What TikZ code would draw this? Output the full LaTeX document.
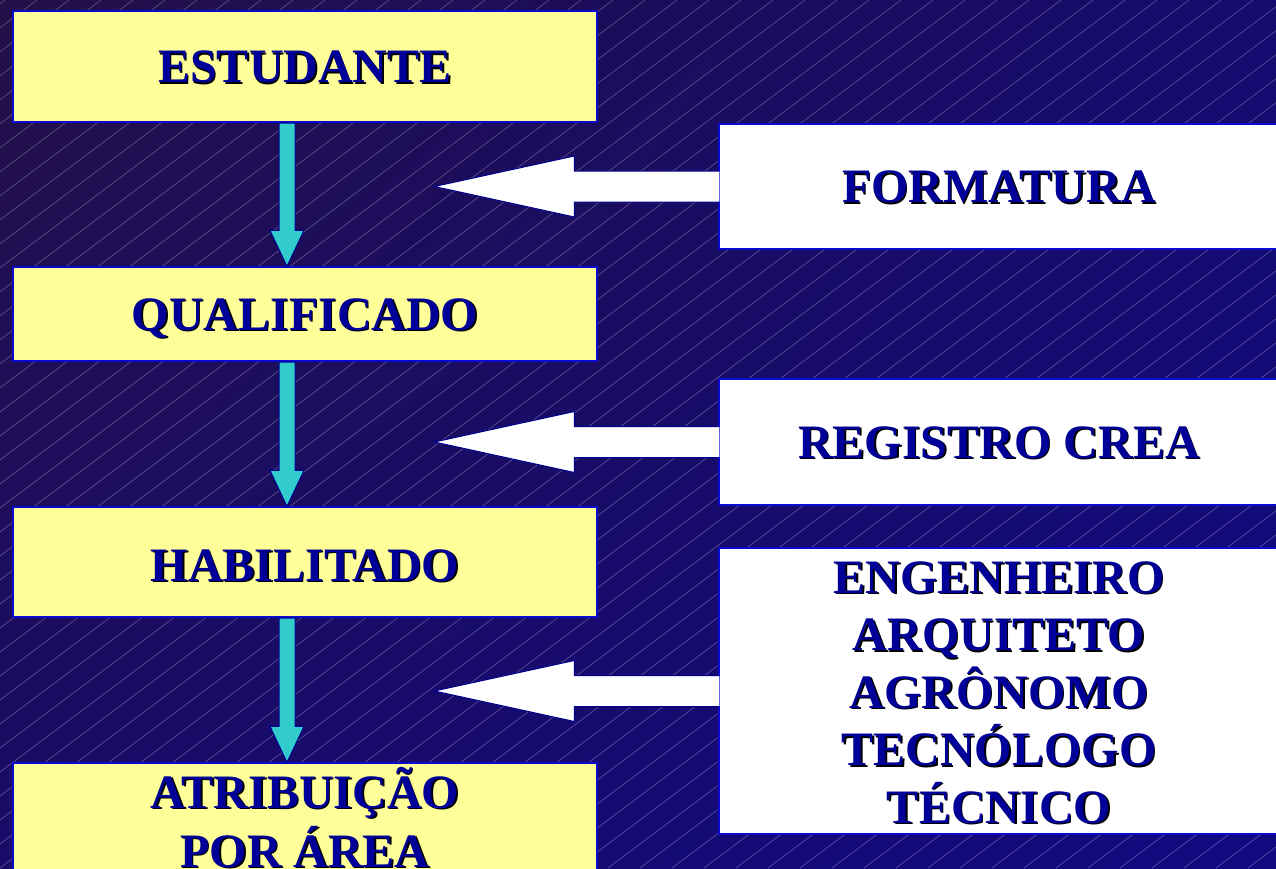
\documentclass[tikz,border=0pt]{standalone}
\usepackage{fontspec}
\setmainfont{Liberation Serif}
\usetikzlibrary{calc,shadings}
\definecolor{bgTL}{HTML}{231048}
\definecolor{bgTR}{HTML}{150A6E}
\definecolor{bgBL}{HTML}{190B68}
\definecolor{bgBR}{HTML}{120A82}
\definecolor{txtblue}{HTML}{000099}
\definecolor{boxyellow}{HTML}{FFFF99}
\definecolor{arrowcyan}{HTML}{33CCCC}
\definecolor{edgeblue}{HTML}{0A0AD0}
\definecolor{navyedge}{HTML}{000090}
\newcommand{\shd}[1]{\makebox[0pt][l]{\hspace{1.5pt}\raisebox{-1.5pt}{\color{black}#1}}{\color{txtblue}#1}}
\begin{document}
\begin{tikzpicture}[x=1pt,y=-1pt,
  bigfont/.style={font=\bfseries\fontsize{48}{57.5}\selectfont},
  ybox/.style={bigfont, draw=edgeblue, line width=1.2pt, fill=boxyellow, minimum width=584pt, inner sep=0pt, text height=32pt, text depth=0pt},
  wbox/.style={bigfont, draw=edgeblue, line width=1.2pt, fill=white, minimum width=560pt, inner sep=0pt, text height=32pt, text depth=0pt},
  txt/.style={bigfont, inner sep=0pt, anchor=base},
  stripe/.style={white, opacity=0.35, line width=0.5pt},
  cyanarrow/.style={fill=arrowcyan, draw=navyedge, line width=1pt, line join=miter},
  whitearrow/.style={fill=white, draw=navyedge, line width=1pt, line join=miter}]
\useasboundingbox (0,0) rectangle (1276,868);
\shade[upper left=bgTL, upper right=bgTR, lower left=bgBL, lower right=bgBR] (0,0) rectangle (1276,868);
\begin{scope}
  \clip (0,0) rectangle (1276,868);
  \foreach \a in {-1184,-1152,...,1280} \draw[stripe] (\a,868) -- ++(1157,-868);
\end{scope}

% left column
\node[ybox, minimum height=111pt] (est) at (305,66.5) {\shd{ESTUDANTE}};
\node[ybox, minimum height=94pt] (qual) at (305,314) {\shd{QUALIFICADO}};
\node[ybox, minimum height=110pt, text height=38pt] (hab) at (305,562) {\shd{HABILITADO}};
\node[ybox, minimum height=120pt] (atr) at (305,823) {};
\node[txt] (atr1) at (305,808) {\shd{ATRIBUIÇÃO}};
\node[txt] (atr2) at (305,867) {\shd{POR ÁREA}};

% right column
\node[wbox, minimum height=125pt] (form) at (999,186.5) {\shd{FORMATURA}};
\node[wbox, minimum height=126pt] (crea) at (999,442) {\shd{REGISTRO CREA}};
\node[wbox, minimum height=286pt] (prof) at (999,691) {};
\node[txt] (p1) at (999,593) {\shd{ENGENHEIRO}};
\node[txt] (p2) at (999,650.5) {\shd{ARQUITETO}};
\node[txt] (p3) at (999,708) {\shd{AGRÔNOMO}};
\node[txt] (p4) at (999,765.5) {\shd{TECNÓLOGO}};
\node[txt] (p5) at (999,823) {\shd{TÉCNICO}};

% cyan down arrows
\foreach \s/\t in {est/qual, qual/hab, hab/atr}{
  \draw[cyanarrow] ($(\s.south)+(-26,0.5)$) -- ($(\t.north)+(-26,-36)$) -- ($(\t.north)+(-35,-36)$)
    -- ($(\t.north)+(-18,0)$) -- ($(\t.north)+(-1,-36)$) -- ($(\t.north)+(-10,-36)$)
    -- ($(\s.south)+(-10,0.5)$) -- cycle;
}

% white left arrows
\foreach \b in {form, crea, prof}{
  \draw[whitearrow] ($(\b.west)+(1,-15.5)$) -- ($(\b.west)+(-144,-15.5)$) -- ($(\b.west)+(-144,-30.5)$)
    -- ($(\b.west)+(-284,0)$) -- ($(\b.west)+(-144,30.5)$) -- ($(\b.west)+(-144,15.5)$)
    -- ($(\b.west)+(1,15.5)$);
}
\end{tikzpicture}
\end{document}
